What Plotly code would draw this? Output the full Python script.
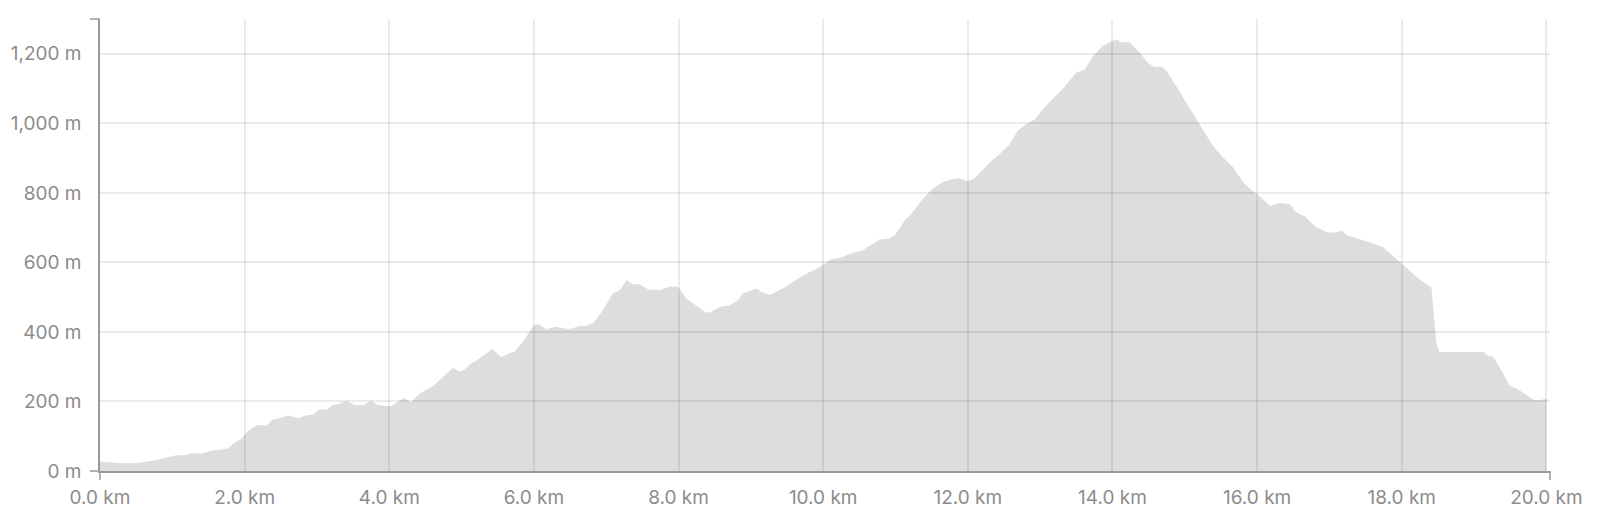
import plotly.graph_objects as go

# Perfil de elevación (distancia en km, altura en m)
distancia_km = [
    0.00, 0.29, 0.52, 0.75, 0.89, 1.05, 1.17, 1.28, 1.40, 1.54, 1.68, 1.77,
    1.86, 1.95, 2.04, 2.18, 2.30, 2.39, 2.48, 2.60, 2.74, 2.83, 2.94, 3.04,
    3.13, 3.22, 3.31, 3.41, 3.52, 3.64, 3.75, 3.84, 3.94, 4.03, 4.12, 4.21,
    4.30, 4.40, 4.51, 4.60, 4.74, 4.88, 4.97, 5.04, 5.13, 5.20, 5.32, 5.42,
    5.55, 5.66, 5.73, 5.85, 5.99, 6.06, 6.17, 6.31, 6.49, 6.63, 6.72, 6.82,
    6.95, 7.09, 7.19, 7.28, 7.37, 7.46, 7.58, 7.74, 7.88, 7.99, 8.11, 8.20,
    8.38, 8.45, 8.57, 8.71, 8.82, 8.89, 9.08, 9.14, 9.26, 9.37, 9.49, 9.63,
    9.77, 9.91, 10.04, 10.11, 10.25, 10.41, 10.53, 10.64, 10.78, 10.90, 10.99,
    11.13, 11.22, 11.38, 11.52, 11.66, 11.80, 11.89, 12.00, 12.10, 12.28,
    12.44, 12.58, 12.69, 12.81, 12.93, 13.04, 13.18, 13.32, 13.50, 13.62,
    13.73, 13.87, 14.01, 14.08, 14.10, 14.24, 14.28, 14.38, 14.49, 14.58,
    14.68, 14.75, 14.88, 15.02, 15.14, 15.21, 15.39, 15.53, 15.67, 15.81,
    15.94, 16.06, 16.18, 16.31, 16.45, 16.54, 16.66, 16.82, 16.98, 17.10,
    17.17, 17.24, 17.51, 17.74, 18.00, 18.23, 18.41, 18.48, 18.52, 18.85,
    19.13, 19.20, 19.26, 19.36, 19.49, 19.63, 19.73, 19.82, 19.88, 20.00,
]

altura_m = [
    27, 22, 23, 30, 37, 45, 45, 52, 50, 58, 62, 65,
    81, 92, 114, 133, 130, 148, 152, 160, 152, 159, 162, 178,
    176, 190, 193, 202, 190, 190, 203, 190, 188, 186, 200, 210,
    197, 219, 234, 243, 270, 296, 286, 291, 310, 317, 334, 351,
    327, 339, 343, 372, 417, 423, 408, 415, 408, 417, 417, 426,
    461, 511, 520, 549, 537, 537, 522, 520, 531, 530, 496, 482,
    455, 458, 472, 477, 491, 511, 525, 515, 506, 518, 531, 551,
    568, 582, 598, 609, 614, 628, 633, 647, 666, 668, 678,
    721, 740, 783, 813, 832, 840, 842, 833, 843, 883,
    912, 940, 979, 998, 1012, 1041, 1072, 1101, 1146, 1155,
    1193, 1224, 1238, 1240, 1233, 1233, 1224, 1203, 1174, 1162,
    1163, 1150, 1107, 1060, 1017, 995, 935, 902, 873, 830,
    805, 786, 762, 771, 768, 744, 732, 701, 685, 687,
    692, 678, 661, 644, 597, 554, 528, 367, 342, 342,
    342, 331, 329, 296, 246, 232, 219, 205, 203, 208,
]

ticks_x = [0, 2, 4, 6, 8, 10, 12, 14, 16, 18, 20]
ticks_y = [0, 200, 400, 600, 800, 1000, 1200]
etiquetas_x = [f"{v:.1f} km" for v in ticks_x]
etiquetas_y = [f"{v:,} m" for v in ticks_y]

fig = go.Figure()

fig.add_trace(go.Scatter(
    x=distancia_km,
    y=altura_m,
    mode='lines',
    fill='tozeroy',
    line=dict(width=0, color='rgba(0,0,0,0)'),
    fillcolor='rgba(0,0,0,0.135)',
    hoverinfo='skip',
    showlegend=False,
))

color_eje = '#9a9a9a'

fig.update_layout(
    width=1600,
    height=524,
    margin=dict(l=92, r=58, t=11, b=61),
    plot_bgcolor='white',
    paper_bgcolor='white',
    font=dict(family='Inter, Roboto, sans-serif', size=19, color='#8c8c8c'),
    xaxis=dict(
        range=[0, 20.05],
        tickvals=ticks_x,
        ticktext=etiquetas_x,
        showgrid=True,
        gridcolor='rgba(0,0,0,0.08)',
        gridwidth=1.5,
        zeroline=False,
        showline=True,
        linecolor=color_eje,
        linewidth=1.5,
        ticks='',
        ticklabelstandoff=8,
        automargin=False,
    ),
    yaxis=dict(
        range=[0, 1300],
        tickvals=ticks_y,
        ticktext=etiquetas_y,
        showgrid=True,
        gridcolor='rgba(0,0,0,0.08)',
        gridwidth=1.5,
        zeroline=False,
        showline=True,
        linecolor=color_eje,
        linewidth=1.5,
        ticks='',
        ticklabelstandoff=13,
        automargin=False,
    ),
)

# marcas en los extremos de los ejes (estilo d3)
lineas_extremo = [
    dict(x0=-0.007, x1=0, y0=1, y1=1),
    dict(x0=-0.007, x1=0, y0=0, y1=0),
    dict(x0=0, x1=0, y0=0, y1=-0.02),
    dict(x0=1, x1=1, y0=0, y1=-0.02),
]
for l in lineas_extremo:
    fig.add_shape(type='line', xref='paper', yref='paper',
                  line=dict(color=color_eje, width=1.5), **l)

fig.write_html("out.html")
